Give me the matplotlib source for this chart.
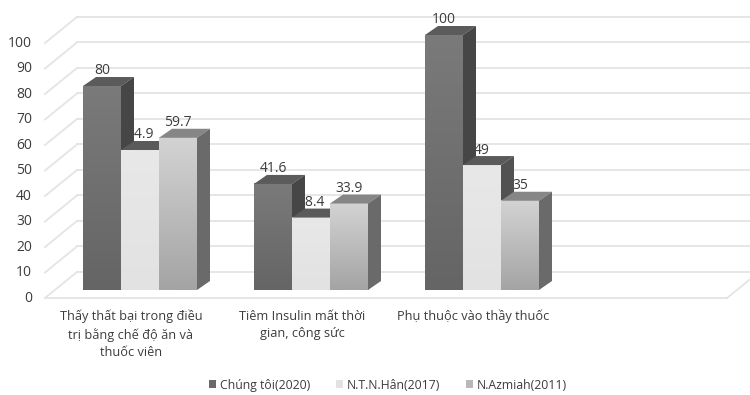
import numpy as np
import matplotlib
matplotlib.use("Agg")
import matplotlib.pyplot as plt
from matplotlib.patches import Polygon, Patch

plt.rcParams['font.family'] = ['Open Sans', 'DejaVu Sans']

categories = ["Thấy thất bại trong điều\ntrị bằng chế độ ăn và\nthuốc viên",
              "Tiêm Insulin mất thời\ngian, công sức",
              "Phụ thuộc vào thầy thuốc"]
series_names = ["Chúng tôi(2020)", "N.T.N.Hân(2017)", "N.Azmiah(2011)"]
chung_toi = [80, 41.6, 100]
han = [54.9, 28.4, 49]
azmiah = [59.7, 33.9, 35]
value_labels = [["80", "41.6", "100"], ["54.9", "28.4", "49"], ["59.7", "33.9", "35"]]
yticks = [0, 10, 20, 30, 40, 50, 60, 70, 80, 90, 100]

series = [chung_toi, han, azmiah]
# (front top, front bottom, top face, side face, legend)
styles = [
    ("#7a7a7a", "#656565", "#5b5b5b", "#464646", "#6a6a6a"),
    ("#e8e8e8", "#e2e2e2", "#5a5a5a", "#525252", "#e2e2e2"),
    ("#d3d3d3", "#a4a4a4", "#868686", "#6a6a6a", "#b8b8b8"),
]
txt_c = "#3c3c3c"

fig = plt.figure(figsize=(7.5, 3.95), dpi=100)
ax = fig.add_axes([0, 0, 1, 1])
ax.set_axis_off()
XL = (-140 / 171, 610 / 171)
YL = (-105 / 2.55, 290 / 2.55)

# wall geometry (data units)
wx0, wdx = -0.5556, 0.187
wy0, wdy = -3.14, 10.2
floor_right = 3.433
grid_c = "#e4e4e4"
for t in yticks:
    ax.plot([wx0 + wdx, XL[1] + 0.3], [t + wy0 + wdy] * 2, color=grid_c, lw=1.3, zorder=1)
    ax.plot([wx0, wx0 + wdx], [t + wy0, t + wy0 + wdy], color=grid_c, lw=1.3, zorder=1)
    ax.text(-0.6316, t + wy0, str(t), ha='right', va='center', fontsize=10, color=txt_c)
ax.plot([wx0, floor_right], [wy0, wy0], color=grid_c, lw=1.3, zorder=1)
ax.plot([floor_right, floor_right + wdx], [wy0, wy0 + wdy], color=grid_c, lw=1.3, zorder=1)

w = 38 / 171
ddx, ddy = 13 / 171, 9 / 2.55
z = 5
for i in range(len(categories)):
    for j, vals in enumerate(series):
        v = vals[i]
        ft, fb, tc, sc, _ = styles[j]
        x0 = i - 1.5 * w + j * w
        x1 = x0 + w
        grad = np.linspace(0, 1, 64).reshape(-1, 1)
        c0 = np.array(matplotlib.colors.to_rgb(ft))
        c1 = np.array(matplotlib.colors.to_rgb(fb))
        img = c0[None, None, :] * (1 - grad[..., None]) + c1[None, None, :] * grad[..., None]
        ax.imshow(img, extent=[x0, x1, 0, v], origin='upper', aspect='auto',
                  zorder=z, interpolation='bilinear')
        ax.add_patch(Polygon([(x0, v), (x0 + ddx, v + ddy), (x1 + ddx, v + ddy), (x1, v)],
                             closed=True, facecolor=tc, edgecolor='none', zorder=z))
        ax.add_patch(Polygon([(x1, 0), (x1, v), (x1 + ddx, v + ddy), (x1 + ddx, ddy)],
                             closed=True, facecolor=sc, edgecolor='none', zorder=z))
        z += 1
        ax.text((x0 + x1) / 2, v + ddy + 1.0, value_labels[j][i], ha='center', va='baseline',
                fontsize=10, color=txt_c, zorder=3)

for i, c in enumerate(categories):
    ax.text(i - 0.053, -7.8, c, ha='center', va='top', fontsize=9.2, color=txt_c,
            linespacing=1.42)

handles = [Patch(facecolor=s[4], edgecolor='none') for s in styles]
fig.legend(handles, series_names, loc='center', bbox_to_anchor=(0.517, 0.025), ncol=3,
           frameon=False, fontsize=8.8, handlelength=0.6, handleheight=0.6,
           handletextpad=0.3, columnspacing=2.1, labelcolor=txt_c)

ax.set_xlim(*XL)
ax.set_ylim(*YL)
fig.savefig("out.png", dpi=100)
